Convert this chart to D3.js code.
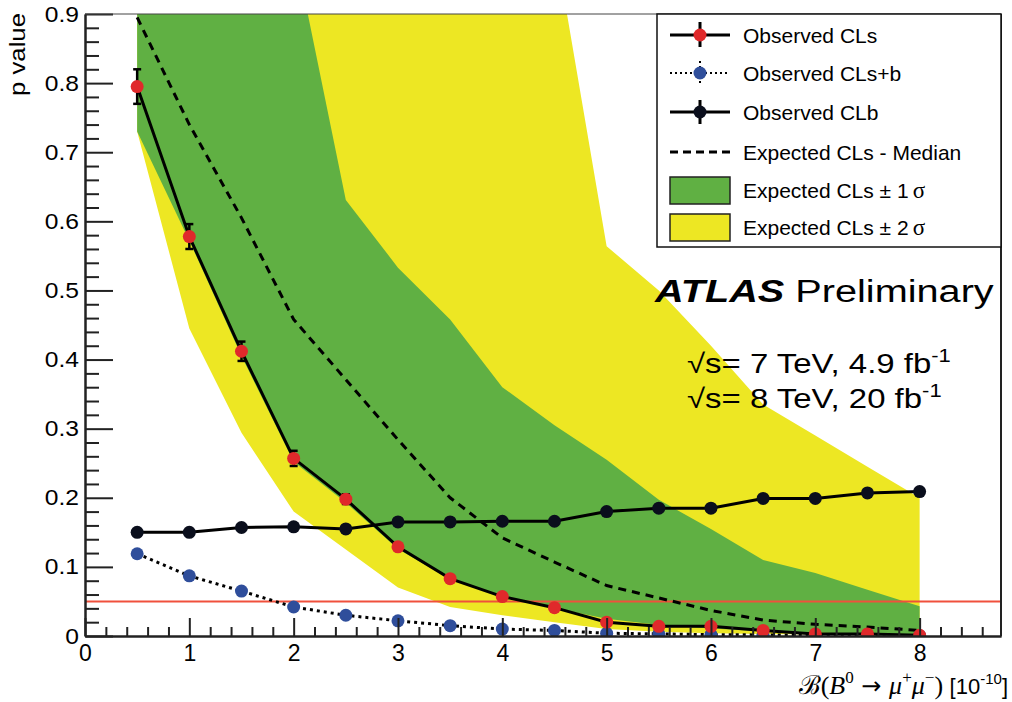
<!DOCTYPE html>
<html>
<head>
<meta charset="utf-8">
<script src="https://cdn.jsdelivr.net/npm/d3@7"></script>
<style>body{margin:0;background:#fff}</style>
</head>
<body>
<div id="chart"></div>
<script>
// values, B(B0 -> mu mu) in units of 1e-10
var mass = [0.5, 1, 1.5, 2, 2.5, 3, 3.5, 4, 4.5, 5, 5.5, 6, 6.5, 7, 7.5, 8];
var obsCLs = [0.795, 0.578, 0.412, 0.257, 0.198, 0.129, 0.083, 0.057, 0.041, 0.020, 0.014, 0.014, 0.008, 0.003, 0.003, 0.001];
var obsCLsErr = [0.025, 0.018, 0.014, 0.011, 0.007, 0.005, 0.004, 0.003, 0.002, 0.002, 0.001, 0.001, 0.001, 0.001, 0.001, 0.001];
var obsCLsb = [0.119, 0.087, 0.065, 0.042, 0.030, 0.022, 0.015, 0.010, 0.008, 0.004, 0.003, 0.002, 0.0015, 0.001, 0.0005, 0.0005];
var obsCLb = [0.150, 0.150, 0.157, 0.158, 0.155, 0.165, 0.165, 0.166, 0.166, 0.180, 0.185, 0.185, 0.199, 0.199, 0.207, 0.209];
var expMedian = [0.895, 0.74, 0.605, 0.458, 0.371, 0.284, 0.200, 0.142, 0.107, 0.073, 0.055, 0.037, 0.023, 0.017, 0.013, 0.008];
var expP1s = [1.0, 1.0, 1.0, 1.0, 0.631, 0.533, 0.458, 0.360, 0.305, 0.255, 0.197, 0.155, 0.110, 0.091, 0.067, 0.043];
var expM1s = [0.73, 0.572, 0.405, 0.252, 0.193, 0.126, 0.082, 0.056, 0.040, 0.025, 0.016, 0.011, 0.007, 0.005, 0.003, 0.002];
var expP2s = [1.0, 1.0, 1.0, 1.0, 1.0, 1.0, 1.0, 1.0, 1.006, 0.564, 0.50, 0.42, 0.335, 0.29, 0.245, 0.20];
var expM2s = [0.73, 0.445, 0.294, 0.180, 0.125, 0.070, 0.042, 0.030, 0.020, 0.010, 0.006, 0.004, 0.003, 0.002, 0.001, 0.001];
var clLevel = 0.05;

var xTicks = [0, 1, 2, 3, 4, 5, 6, 7, 8];
var yTicks = [0, 0.1, 0.2, 0.3, 0.4, 0.5, 0.6, 0.7, 0.8, 0.9];

var legendLabels = ["Observed CLs", "Observed CLs+b", "Observed CLb", "Expected CLs - Median", "Expected CLs \u00b1 1", "Expected CLs \u00b1 2"];

// COLORS and FONTS
var sans = "'Liberation Sans',Arial,Helvetica,sans-serif";
var serif = "'Liberation Serif','Times New Roman','DejaVu Serif',serif";
var green = "#60b043";
var yellow = "#ede723";
var red = "#e0292b";
var blue = "#2f4e9b";
var dark = "#0a0e1c";

var W = 1012, H = 702;
var svg = d3.select("#chart").append("svg").attr("width", W).attr("height", H);

var x = d3.scaleLinear().domain([0, 8.78]).range([85, 1001]);
var y = d3.scaleLinear().domain([0, 0.9]).range([636, 14]);

svg.append("clipPath").attr("id", "plot").append("rect")
  .attr("x", x(0)).attr("y", y(0.9))
  .attr("width", x(8.78) - x(0)).attr("height", y(0) - y(0.9));
var plot = svg.append("g").attr("clip-path", "url(#plot)");

function band(lo, hi) {
  return d3.area()
    .x(function(d, i) { return x(mass[i]); })
    .y0(function(d, i) { return y(lo[i]); })
    .y1(function(d, i) { return y(hi[i]); })(mass);
}
plot.append("path").attr("d", band(expM2s, expP2s)).attr("fill", yellow);
plot.append("path").attr("d", band(expM1s, expP1s)).attr("fill", green);

// axes
function styleAxis(g) {
  g.selectAll("path.domain").attr("stroke", "#222").attr("stroke-width", 2);
  g.selectAll(".tick line").attr("stroke", "#222").attr("stroke-width", 2);
}
var minorX = d3.range(0, 44).map(function(i) { return i * 0.2; }).filter(function(v) { return Math.abs(v - Math.round(v)) > 0.01; });
var minorY = d3.range(0, 46).map(function(i) { return i * 0.02; }).filter(function(v) { return Math.abs(v * 10 - Math.round(v * 10)) > 0.01; });

svg.append("g").attr("transform", "translate(0," + y(0) + ")")
  .call(d3.axisBottom(x).tickValues(minorX).tickSize(-9).tickSizeOuter(0).tickFormat(""))
  .call(styleAxis);
var gx = svg.append("g").attr("transform", "translate(0," + y(0) + ")")
  .call(d3.axisBottom(x).tickValues(xTicks).tickSize(-18).tickSizeOuter(0).tickPadding(9).tickFormat(d3.format("d")))
  .call(styleAxis);
gx.selectAll("text").attr("font-size", 23).attr("font-family", sans).attr("fill", "#000");

svg.append("g").attr("transform", "translate(" + x(0) + ",0)")
  .call(d3.axisLeft(y).tickValues(minorY).tickSize(-14).tickSizeOuter(0).tickFormat(""))
  .call(styleAxis);
var gy = svg.append("g").attr("transform", "translate(" + x(0) + ",0)")
  .call(d3.axisLeft(y).tickValues(yTicks).tickSize(-28).tickSizeOuter(0).tickPadding(6)
    .tickFormat(function(d) { return d === 0 ? "0" : d.toFixed(1); }))
  .call(styleAxis);
gy.selectAll("text").attr("font-size", 22).attr("font-family", sans).attr("fill", "#000")
  .attr("x", null).attr("transform", "translate(-6,0) scale(1.12,1)");

// frame top and right
svg.append("line").attr("x1", x(0)).attr("x2", x(8.78)).attr("y1", y(0.9)).attr("y2", y(0.9))
  .attr("stroke", "#444").attr("stroke-width", 1);
svg.append("line").attr("x1", x(8.78)).attr("x2", x(8.78)).attr("y1", y(0.9)).attr("y2", y(0))
  .attr("stroke", "#222").attr("stroke-width", 2);

// 95% CL line
plot.append("line").attr("x1", x(0)).attr("x2", x(8.78)).attr("y1", y(clLevel)).attr("y2", y(clLevel))
  .attr("stroke", "#f0503c").attr("stroke-width", 2);

var line = d3.line().x(function(d, i) { return x(mass[i]); }).y(function(d) { return y(d); });

plot.append("path").attr("d", line(expMedian)).attr("fill", "none")
  .attr("stroke", "#000").attr("stroke-width", 3).attr("stroke-dasharray", "8,6");

// CLs+b
plot.append("path").attr("d", line(obsCLsb)).attr("fill", "none")
  .attr("stroke", "#000").attr("stroke-width", 3).attr("stroke-dasharray", "3,4");
plot.selectAll("circle.clsb").data(obsCLsb).enter().append("circle").attr("class", "clsb")
  .attr("cx", function(d, i) { return x(mass[i]); }).attr("cy", function(d) { return y(d); })
  .attr("r", 6.5).attr("fill", blue);

// CLb
plot.append("path").attr("d", line(obsCLb)).attr("fill", "none")
  .attr("stroke", "#000").attr("stroke-width", 3);
plot.selectAll("circle.clb").data(obsCLb).enter().append("circle").attr("class", "clb")
  .attr("cx", function(d, i) { return x(mass[i]); }).attr("cy", function(d) { return y(d); })
  .attr("r", 6.5).attr("fill", dark);

// CLs with error bars
plot.append("path").attr("d", line(obsCLs)).attr("fill", "none")
  .attr("stroke", "#000").attr("stroke-width", 3);
var eb = plot.selectAll("g.err").data(obsCLs).enter().append("g").attr("class", "err");
eb.append("line")
  .attr("x1", function(d, i) { return x(mass[i]); }).attr("x2", function(d, i) { return x(mass[i]); })
  .attr("y1", function(d, i) { return y(d + obsCLsErr[i]); }).attr("y2", function(d, i) { return y(d - obsCLsErr[i]); })
  .attr("stroke", "#000").attr("stroke-width", 2.5);
[1, -1].forEach(function(s) {
  eb.append("line")
    .attr("x1", function(d, i) { return x(mass[i]) - 4; }).attr("x2", function(d, i) { return x(mass[i]) + 4; })
    .attr("y1", function(d, i) { return y(d + s * obsCLsErr[i]); }).attr("y2", function(d, i) { return y(d + s * obsCLsErr[i]); })
    .attr("stroke", "#000").attr("stroke-width", 2.5);
});
plot.selectAll("circle.cls").data(obsCLs).enter().append("circle").attr("class", "cls")
  .attr("cx", function(d, i) { return x(mass[i]); }).attr("cy", function(d) { return y(d); })
  .attr("r", 6.5).attr("fill", red);

// axis titles
svg.append("text").attr("transform", "translate(25,13) rotate(-90) scale(1.12,1)")
  .attr("text-anchor", "end").attr("font-size", 23).attr("font-family", sans).text("p value");

var xt = svg.append("text").attr("x", 1008).attr("y", 694).attr("text-anchor", "end")
  .attr("font-size", 26).attr("font-family", serif);
xt.append("tspan").text("\u212c(");
xt.append("tspan").attr("font-style", "italic").text("B");
xt.append("tspan").attr("dy", -11).attr("font-size", 17).text("0");
xt.append("tspan").attr("dy", 11).attr("font-family", "'DejaVu Sans',sans-serif").attr("font-size", 24).text(" \u2192 ");
xt.append("tspan").attr("font-style", "italic").text("\u03bc");
xt.append("tspan").attr("dy", -11).attr("font-size", 17).text("+");
xt.append("tspan").attr("dy", 11).attr("font-style", "italic").text("\u03bc");
xt.append("tspan").attr("dy", -11).attr("font-size", 17).text("\u2212");
xt.append("tspan").attr("dy", 11).text(") ");
xt.append("tspan").attr("font-family", sans).attr("font-size", 22).text("[10");
xt.append("tspan").attr("dy", -10).attr("font-size", 15).attr("font-family", sans).text("-10");
xt.append("tspan").attr("dy", 10).attr("font-family", sans).attr("font-size", 22).text("]");

// ATLAS label
var atl = svg.append("text").attr("transform", "translate(655,302) scale(1.28,1)")
  .attr("font-size", 31).attr("font-family", sans);
atl.append("tspan").attr("font-weight", "bold").attr("font-style", "italic").text("ATLAS");
atl.append("tspan").text(" Preliminary");

[["\u221as= 7 TeV, 4.9 fb", 373], ["\u221as= 8 TeV, 20 fb", 408]].forEach(function(r) {
  var t = svg.append("text").attr("transform", "translate(687," + r[1] + ") scale(1.22,1)")
    .attr("font-size", 27).attr("font-family", sans);
  t.append("tspan").text(r[0]);
  t.append("tspan").attr("dy", -11).attr("font-size", 18).text("-1");
});

// legend
var lg = svg.append("g");
lg.append("rect").attr("x", 657).attr("y", 14).attr("width", 344).attr("height", 233)
  .attr("fill", "#fff").attr("stroke", "#111").attr("stroke-width", 1.5);
var rowY = [35, 73, 112, 152, 190, 227];
var sx0 = 670, sx1 = 730, sxm = 700;
legendLabels.forEach(function(lab, i) {
  var t = lg.append("text").attr("x", 743).attr("y", rowY[i] + 8)
    .attr("font-size", 21).attr("font-family", sans).text(lab);
  if (i >= 4) t.append("tspan").attr("font-family", serif).attr("font-size", 23).attr("dx", 4).text("\u03c3");
});
// CLs entry
lg.append("line").attr("x1", sx0).attr("x2", sx1).attr("y1", rowY[0]).attr("y2", rowY[0]).attr("stroke", "#000").attr("stroke-width", 3);
lg.append("line").attr("x1", sxm).attr("x2", sxm).attr("y1", rowY[0] - 13).attr("y2", rowY[0] + 12).attr("stroke", "#000").attr("stroke-width", 3);
lg.append("circle").attr("cx", sxm).attr("cy", rowY[0]).attr("r", 6.5).attr("fill", red);
// CLs+b entry
lg.append("line").attr("x1", sx0).attr("x2", sx1).attr("y1", rowY[1]).attr("y2", rowY[1]).attr("stroke", "#000").attr("stroke-width", 2).attr("stroke-dasharray", "2,3");
lg.append("line").attr("x1", sxm).attr("x2", sxm).attr("y1", rowY[1] - 12).attr("y2", rowY[1] + 12).attr("stroke", "#000").attr("stroke-width", 2).attr("stroke-dasharray", "2,3");
lg.append("circle").attr("cx", sxm).attr("cy", rowY[1]).attr("r", 6.5).attr("fill", blue);
// CLb entry
lg.append("line").attr("x1", sx0).attr("x2", sx1).attr("y1", rowY[2]).attr("y2", rowY[2]).attr("stroke", "#000").attr("stroke-width", 3);
lg.append("line").attr("x1", sxm).attr("x2", sxm).attr("y1", rowY[2] - 12).attr("y2", rowY[2] + 12).attr("stroke", "#000").attr("stroke-width", 3);
lg.append("circle").attr("cx", sxm).attr("cy", rowY[2]).attr("r", 6.5).attr("fill", dark);
// median entry
lg.append("line").attr("x1", sx0).attr("x2", sx1).attr("y1", rowY[3]).attr("y2", rowY[3]).attr("stroke", "#000").attr("stroke-width", 3).attr("stroke-dasharray", "8,5");
// band entries
[[green, rowY[4]], [yellow, rowY[5]]].forEach(function(b) {
  lg.append("rect").attr("x", sx0).attr("y", b[1] - 13).attr("width", sx1 - sx0).attr("height", 27)
    .attr("fill", b[0]).attr("stroke", "#222").attr("stroke-width", 1.5);
});
</script>
</body>
</html>
